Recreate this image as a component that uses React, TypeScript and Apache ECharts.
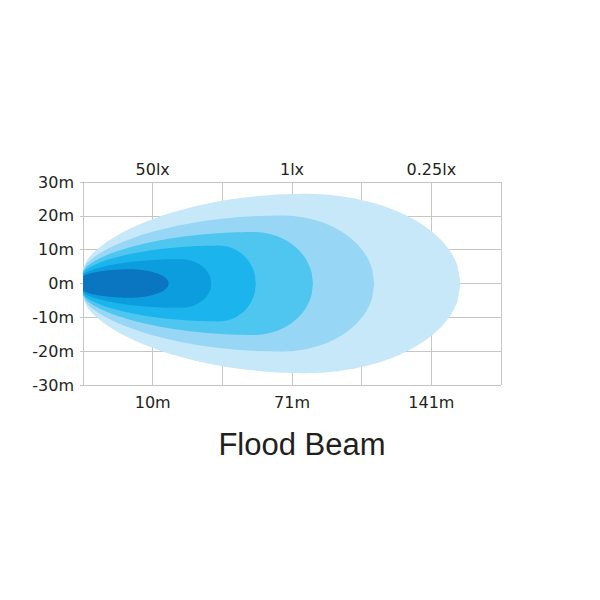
import React, { useEffect, useRef } from "react";
import * as echarts from "echarts";

// Axis ticks / labels
const yTicks = [-30, -20, -10, 0, 10, 20, 30];
const distanceLabels = ["", "10m", "", "71m", "", "141m", ""];
const luxLabels = ["", "50lx", "", "1lx", "", "0.25lx", ""];
const titleText = "Flood Beam";

// Beam iso-lux layers (outermost first), x in grid columns, half widths in metres
const layerReach = [5.42, 4.18, 3.3, 2.48, 1.84, 1.23];
const layerPeak = [3.19, 2.85, 2.45, 1.95, 1.4, 0.67];
const layerHalfWidth = [26.5, 20.1, 15.2, 11.2, 7.2, 4.2];
const layerOriginHalf = [4.5, 4.0, 3.5, 3.0, 2.5, 2.0];
const layerColors = ["#c6e8f8", "#97d6f4", "#4ec6f0", "#1bb4ec", "#0c9ddf", "#0a75c0"];

const gridColor = "#c6c6c6";
const textColor = "#231f20";
const labelFont = "DejaVu Sans";

export default function App() {
  const ref = useRef<HTMLDivElement>(null);
  useEffect(() => {
    if (!ref.current) return;
    const chart = echarts.init(ref.current, undefined, { renderer: "svg" });
    const data = layerReach.map((r, i) => ({
      value: [r, layerPeak[i], layerHalfWidth[i], layerOriginHalf[i]],
      itemStyle: { color: layerColors[i] },
    }));
    const xBase = {
      type: "value" as const,
      min: 0,
      max: 6,
      interval: 1,
      axisTick: { show: false },
    };
    chart.setOption({
      animation: false,
      grid: { left: 83, right: 99, top: 182, bottom: 215 },
      xAxis: [
        {
          ...xBase,
          position: "bottom",
          axisLine: { show: true, lineStyle: { color: gridColor, width: 1 } },
          splitLine: { show: true, lineStyle: { color: gridColor, width: 1 } },
          axisLabel: {
            formatter: (v: number) => distanceLabels[Math.round(v)] || "",
            color: textColor,
            fontSize: 16,
            fontFamily: labelFont,
            margin: 9,
            showMinLabel: true,
            showMaxLabel: true,
          },
        },
        {
          ...xBase,
          position: "top",
          axisLine: { show: true, lineStyle: { color: gridColor, width: 1 } },
          splitLine: { show: false },
          axisLabel: {
            formatter: (v: number) => luxLabels[Math.round(v)] || "",
            color: textColor,
            fontSize: 16,
            fontFamily: labelFont,
            margin: 5,
          },
        },
      ],
      yAxis: {
        type: "value",
        min: yTicks[0],
        max: yTicks[yTicks.length - 1],
        interval: 10,
        axisLine: { show: true, lineStyle: { color: gridColor, width: 1 } },
        axisTick: { show: true, length: 3, lineStyle: { color: gridColor } },
        splitLine: { show: true, lineStyle: { color: gridColor, width: 1 } },
        axisLabel: {
          formatter: (v: number) => `${v}m`,
          color: textColor,
          fontSize: 16,
          fontFamily: labelFont,
          margin: 9,
        },
      },
      graphic: [
        {
          type: "text",
          x: 302,
          y: 444,
          style: {
            text: titleText,
            fontSize: 31,
            fontFamily: "Liberation Sans",
            fill: textColor,
            align: "center",
            verticalAlign: "middle",
          },
        },
      ],
      series: [
        {
          type: "custom",
          coordinateSystem: "cartesian2d",
          dimensions: ["reach", "peak", "half", "origin"],
          encode: { x: 0, y: 2 },
          data,
          renderItem: (params: any, api: any) => {
            const reach = api.value(0);
            const peak = api.value(1);
            const H = api.value(2);
            const h0 = api.value(3);
            const N = 48;
            const upper: number[][] = [];
            for (let i = 0; i <= N; i++) {
              const s = i / N;
              const t = 1 - s;
              upper.push([peak * s, h0 + (H - h0) * Math.pow(Math.max(0, 1 - t * t), 0.65)]);
            }
            for (let i = 1; i <= N; i++) {
              const u = i / N;
              upper.push([peak + (reach - peak) * u, H * Math.sqrt(Math.max(0, 1 - u * u))]);
            }
            const top = upper.map((p) => api.coord(p));
            const bottom = upper
              .slice()
              .reverse()
              .map((p) => api.coord([p[0], -p[1]]));
            return {
              type: "polygon",
              shape: { points: top.concat(bottom) },
              style: { fill: api.visual("color"), stroke: null },
            };
          },
        },
      ],
    });
    return () => chart.dispose();
  }, []);
  return (
    <div
      ref={ref}
      style={{ position: "fixed", left: 0, top: 0, width: 600, height: 600, background: "#fff" }}
    />
  );
}
